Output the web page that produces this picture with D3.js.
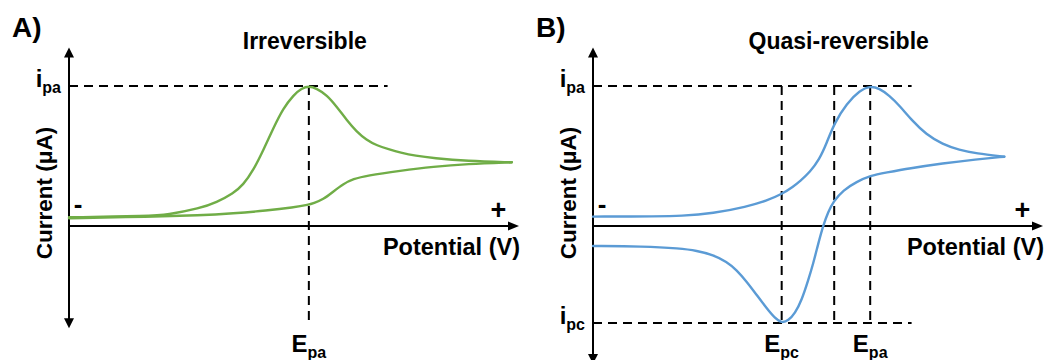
<!DOCTYPE html>
<html>
<head>
<meta charset="utf-8">
<script src="https://cdn.jsdelivr.net/npm/d3@7"></script>
<style>
  html, body { margin: 0; padding: 0; background: #fff; }
  svg text { font-family: Arial, "Liberation Sans", sans-serif; font-weight: bold; fill: #000; }
</style>
</head>
<body>
<svg id="chart" width="1046" height="360"></svg>
<script>
// ---------------- data (arbitrary potential units, current in arbitrary units) ----------------
// Panel A – irreversible: forward (anodic) scan and return scan
const irrevForwardE = [0, 18, 21.7, 29.1, 32.8, 36.5, 38.7, 41.0, 43.2, 45.4, 47.6, 49.9, 51.7, 53.3, 55.0, 57.3, 59.5, 61.7, 63.9, 66.1, 68.4, 71.3, 73.6, 77.0, 81.0, 88.4, 98.4];
const irrevForwardI = [0.62, 0.72, 0.79, 1.26, 1.69, 2.33, 2.93, 4.0, 5.43, 6.98, 8.4, 9.36, 9.83, 10, 9.83, 9.36, 8.52, 7.57, 6.74, 6.15, 5.75, 5.45, 5.25, 5.02, 4.85, 4.64, 4.55];
const irrevReturnE  = [98.4, 88.4, 81.0, 73.6, 66.1, 63.2, 60.9, 58.7, 56.5, 54.3, 53.3, 49.9, 43.9, 36.5, 29.1, 18, 0];
const irrevReturnI  = [4.55, 4.43, 4.24, 3.95, 3.6, 3.36, 3.0, 2.45, 1.9, 1.62, 1.52, 1.33, 1.1, 0.9, 0.76, 0.67, 0.55];

// Panel B – quasi-reversible
const quasiForwardE = [0, 14.7, 19.33, 26.73, 34.16, 38.6, 41.93, 44.51, 46.0, 48.2, 50.3, 51.9, 53.6, 56.4, 59.3, 61.6, 63.6, 65.9, 68.1, 71.0, 74.0, 77.7, 81.4, 85.1, 91.4];
const quasiForwardI = [0.67, 0.69, 0.71, 0.9, 1.38, 1.81, 2.27, 2.82, 3.2, 3.85, 4.75, 5.9, 7.33, 8.76, 9.69, 10, 9.83, 9.31, 8.6, 7.5, 6.55, 5.83, 5.43, 5.19, 4.95];
const quasiReturnE  = [91.4, 85.1, 77.7, 70.3, 65.1, 61.6, 58.6, 55.62, 53.4, 52.29, 51.18, 50.07, 48.96, 47.84, 46.38, 44.89, 43.4, 41.93, 40.44, 38.6, 36.38, 34.16, 31.93, 29.71, 26.73, 23.04, 19.33, 11.1, 0];
const quasiReturnI  = [4.95, 4.76, 4.48, 4.12, 3.81, 3.6, 3.16, 2.57, 1.74, 1.02, 0.07, -1.24, -2.66, -3.86, -5.29, -6.24, -6.76, -6.93, -6.59, -5.88, -4.93, -3.98, -3.14, -2.55, -2.07, -1.76, -1.6, -1.45, -1.43];

// midpoint potential marker in panel B
const quasiMidE = [53.6];

// labels
const panelLabels = ["A)", "B)"];
const panelTitles = ["Irreversible", "Quasi-reversible"];
const xAxisLabel = "Potential (V)";
const yAxisLabel = "Current (\u03BCA)";

// ---------------- layout ----------------
const svg = d3.select("#chart");
const y = d3.scaleLinear().domain([0, 10]).range([226, 86]);
const xA = d3.scaleLinear().domain([0, 100]).range([69, 519]);
const xB = d3.scaleLinear().domain([0, 100]).range([593, 1043]);

const GREEN = "#70AD47", BLUE = "#5B9BD5";
const yTop = 12.75;
const guideEnd = 70.8;      // end of the horizontal guides (x units)
const guideBottom = -6.93;  // bottom of the vertical guides (y units)

function zip(E, I) { return E.map((e, k) => [e, I[k]]); }

function arrowUp(g, px, py) {
  g.append("path").attr("d", `M${px},${py} L${px - 5},${py + 10} L${px + 5},${py + 10} Z`).attr("fill", "#000");
}
function arrowDown(g, px, py) {
  g.append("path").attr("d", `M${px},${py} L${px - 5},${py - 10} L${px + 5},${py - 10} Z`).attr("fill", "#000");
}
function arrowRight(g, px, py) {
  g.append("path").attr("d", `M${px},${py} L${px - 11},${py - 4.5} L${px - 11},${py + 4.5} Z`).attr("fill", "#000");
}

function subLabel(g, x, yb, main, sub, anchor) {
  const t = g.append("text").attr("x", x).attr("y", yb).attr("text-anchor", anchor)
    .style("font-size", "24px");
  t.append("tspan").text(main);
  t.append("tspan").attr("dy", 6).style("font-size", "16px").text(sub);
  return t;
}

function drawPanel(opts) {
  const { x, idx, forward, ret, color, yBottom, cathodic, midE } = opts;
  const g = svg.append("g");
  const x0 = x(0);
  const y0 = y(0);

  // guides (dashed)
  const dash = "9,6";
  const peakA = forward.reduce((a, b) => (b[1] > a[1] ? b : a));
  const guides = g.append("g").attr("stroke", "#000").attr("stroke-width", 2)
    .attr("stroke-dasharray", dash).attr("fill", "none");
  guides.append("line").attr("x1", x0).attr("x2", x(guideEnd)).attr("y1", y(peakA[1])).attr("y2", y(peakA[1]));
  guides.append("line").attr("x1", x(peakA[0])).attr("x2", x(peakA[0])).attr("y1", y(peakA[1])).attr("y2", y(guideBottom));
  let peakC = null;
  if (cathodic) {
    peakC = ret.reduce((a, b) => (b[1] < a[1] ? b : a));
    guides.append("line").attr("x1", x0).attr("x2", x(guideEnd)).attr("y1", y(peakC[1])).attr("y2", y(peakC[1]));
    guides.append("line").attr("x1", x(peakC[0])).attr("x2", x(peakC[0])).attr("y1", y(peakA[1])).attr("y2", y(peakC[1]));
    midE.forEach(e => {
      guides.append("line").attr("x1", x(e)).attr("x2", x(e)).attr("y1", y(peakA[1])).attr("y2", y(peakC[1]));
    });
  }

  // axes
  g.append("line").attr("x1", x0).attr("x2", x0).attr("y1", y(yTop) + 4).attr("y2", y(yBottom) - 4)
    .attr("stroke", "#000").attr("stroke-width", 2);
  arrowUp(g, x0, y(yTop));
  arrowDown(g, x0, y(yBottom));
  g.append("line").attr("x1", x0).attr("x2", x(100) - 5).attr("y1", y0).attr("y2", y0)
    .attr("stroke", "#000").attr("stroke-width", 2);
  arrowRight(g, x(100), y0);

  // curves (each branch is a function of potential; draw sorted by potential)
  const line = d3.line().x(d => x(d[0])).y(d => y(d[1])).curve(d3.curveBasis);
  [forward, ret].forEach(s => {
    const sorted = s.slice().sort((a, b) => a[0] - b[0]);
    g.append("path").attr("d", line(sorted)).attr("fill", "none").attr("stroke", color)
      .attr("stroke-width", 2.4).attr("stroke-linecap", "round");
  });

  // texts
  g.append("text").attr("x", x0 - 57).attr("y", 37).style("font-size", "28px").text(panelLabels[idx]);
  g.append("text").attr("x", idx === 0 ? x(52.4) : x(54.6)).attr("y", 49).attr("text-anchor", "middle")
    .style("font-size", "23px").text(panelTitles[idx]);
  g.append("text").attr("transform", `translate(${x0 - 17},193) rotate(-90)`).attr("text-anchor", "middle")
    .style("font-size", "22.5px").text(yAxisLabel);
  g.append("text").attr("x", x(100) + 1).attr("y", 255).attr("text-anchor", "end")
    .style("font-size", "23.5px").text(xAxisLabel);
  g.append("text").attr("x", x0 + 9).attr("y", 213).attr("text-anchor", "middle")
    .style("font-size", "26px").text("-");
  g.append("text").attr("x", x(95.4)).attr("y", 219).attr("text-anchor", "middle")
    .style("font-size", "27px").text("+");

  subLabel(g, x0 - 8, y(peakA[1]) + 1, "i", "pa", "end");
  subLabel(g, x(peakA[0]), 352, "E", "pa", "middle");
  if (cathodic) {
    subLabel(g, x0 - 8, y(peakC[1]) + 1, "i", "pc", "end");
    subLabel(g, x(peakC[0]), 352, "E", "pc", "middle");
  }
}

drawPanel({ x: xA, idx: 0, forward: zip(irrevForwardE, irrevForwardI), ret: zip(irrevReturnE, irrevReturnI),
  color: GREEN, yBottom: -7.3, cathodic: false, midE: [] });
drawPanel({ x: xB, idx: 1, forward: zip(quasiForwardE, quasiForwardI), ret: zip(quasiReturnE, quasiReturnI),
  color: BLUE, yBottom: -9.85, cathodic: true, midE: quasiMidE });
</script>
</body>
</html>
